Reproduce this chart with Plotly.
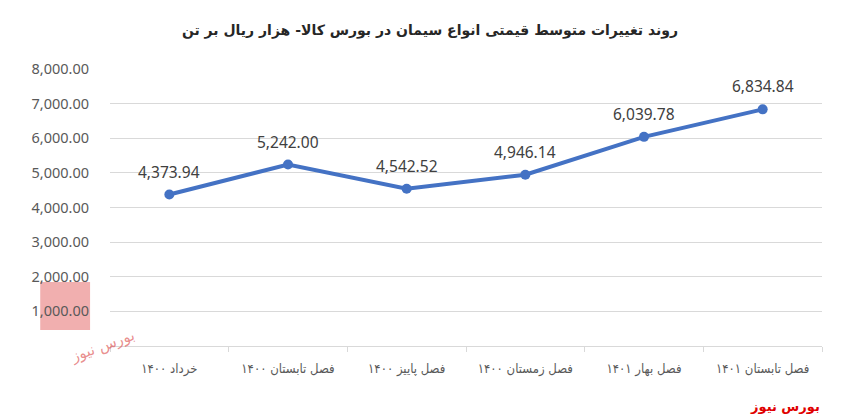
import plotly.graph_objects as go

categories = ["خرداد ۱۴۰۰", "فصل تابستان ۱۴۰۰", "فصل پاییز ۱۴۰۰", "فصل زمستان ۱۴۰۰", "فصل بهار ۱۴۰۱", "فصل تابستان ۱۴۰۱"]
values = [4373.94, 5242.00, 4542.52, 4946.14, 6039.78, 6834.84]
title_text = "روند تغییرات متوسط قیمتی انواع سیمان در بورس کالا- هزار ریال بر تن"
y_ticks = [1000, 2000, 3000, 4000, 5000, 6000, 7000, 8000]

# page body has an 8px margin (top/left), so the figure is sized to fit the window
W, H, OFF = 852, 417, 8

fig = go.Figure()
fig.add_trace(go.Scatter(
    x=categories, y=values,
    mode="lines+markers",
    line=dict(color="#4472C4", width=4),
    marker=dict(color="#4472C4", size=10),
    cliponaxis=False,
    hoverinfo="skip",
))

for c, v in zip(categories, values):
    fig.add_annotation(x=c, y=v, text=f"{v:,.2f}", showarrow=False,
                       yshift=23, yanchor="middle",
                       font=dict(family="Noto Sans, DejaVu Sans", size=15.5, color="#404040"))

fig.update_layout(
    width=W - OFF, height=H - OFF,
    margin=dict(l=110 - OFF, r=30, t=69 - OFF, b=71, autoexpand=False),
    paper_bgcolor="white", plot_bgcolor="white",
    showlegend=False,
    title=dict(text="<b>" + title_text + "</b>", x=0.5, xanchor="center", y=1 - 22 / (H - OFF), yanchor="middle",
               font=dict(family="DejaVu Sans", size=14, color="#262626")),
    xaxis=dict(
        type="category",
        showgrid=False,
        showline=True, linecolor="#D9D9D9", linewidth=1,
        ticks="outside", tickson="boundaries", ticklen=5, tickcolor="#D9D9D9",
        tickangle=0,
        automargin=False,
        tickfont=dict(family="DejaVu Sans Condensed, DejaVu Sans", size=13, color="#595959"),
        ticklabelstandoff=10,
        range=[-0.5, 5.5],
    ),
    yaxis=dict(
        range=[0, 8000],
        tickvals=y_ticks,
        tickformat=",.2f",
        showgrid=True, gridcolor="#D9D9D9", gridwidth=1,
        zeroline=False,
        showline=False,
        ticks="",
        automargin=False,
        ticklabelstandoff=20,
        tickfont=dict(family="Noto Sans, DejaVu Sans", size=14.5, color="#595959"),
    ),
)

# watermark logo (approximate)
fig.add_shape(type="rect", xref="paper", yref="paper",
              x0=-0.098, x1=-0.028, y0=0.058, y1=0.231,
              fillcolor="rgba(230,110,110,0.55)", line=dict(width=0), layer="below")
fig.add_annotation(text="بورس نیوز", xref="paper", yref="paper", x=-0.063, y=0.0,
                   showarrow=False, textangle=-20, yanchor="middle",
                   font=dict(family="DejaVu Sans", size=15, color="rgba(220,80,80,0.65)"))
# source
fig.add_annotation(text="<b>بورس نیوز</b>", xref="paper", yref="paper", x=1.0, y=-0.217,
                   xanchor="right", yanchor="middle", showarrow=False,
                   font=dict(family="DejaVu Sans", size=13, color="#E00000"))

fig.write_html("out.html")
